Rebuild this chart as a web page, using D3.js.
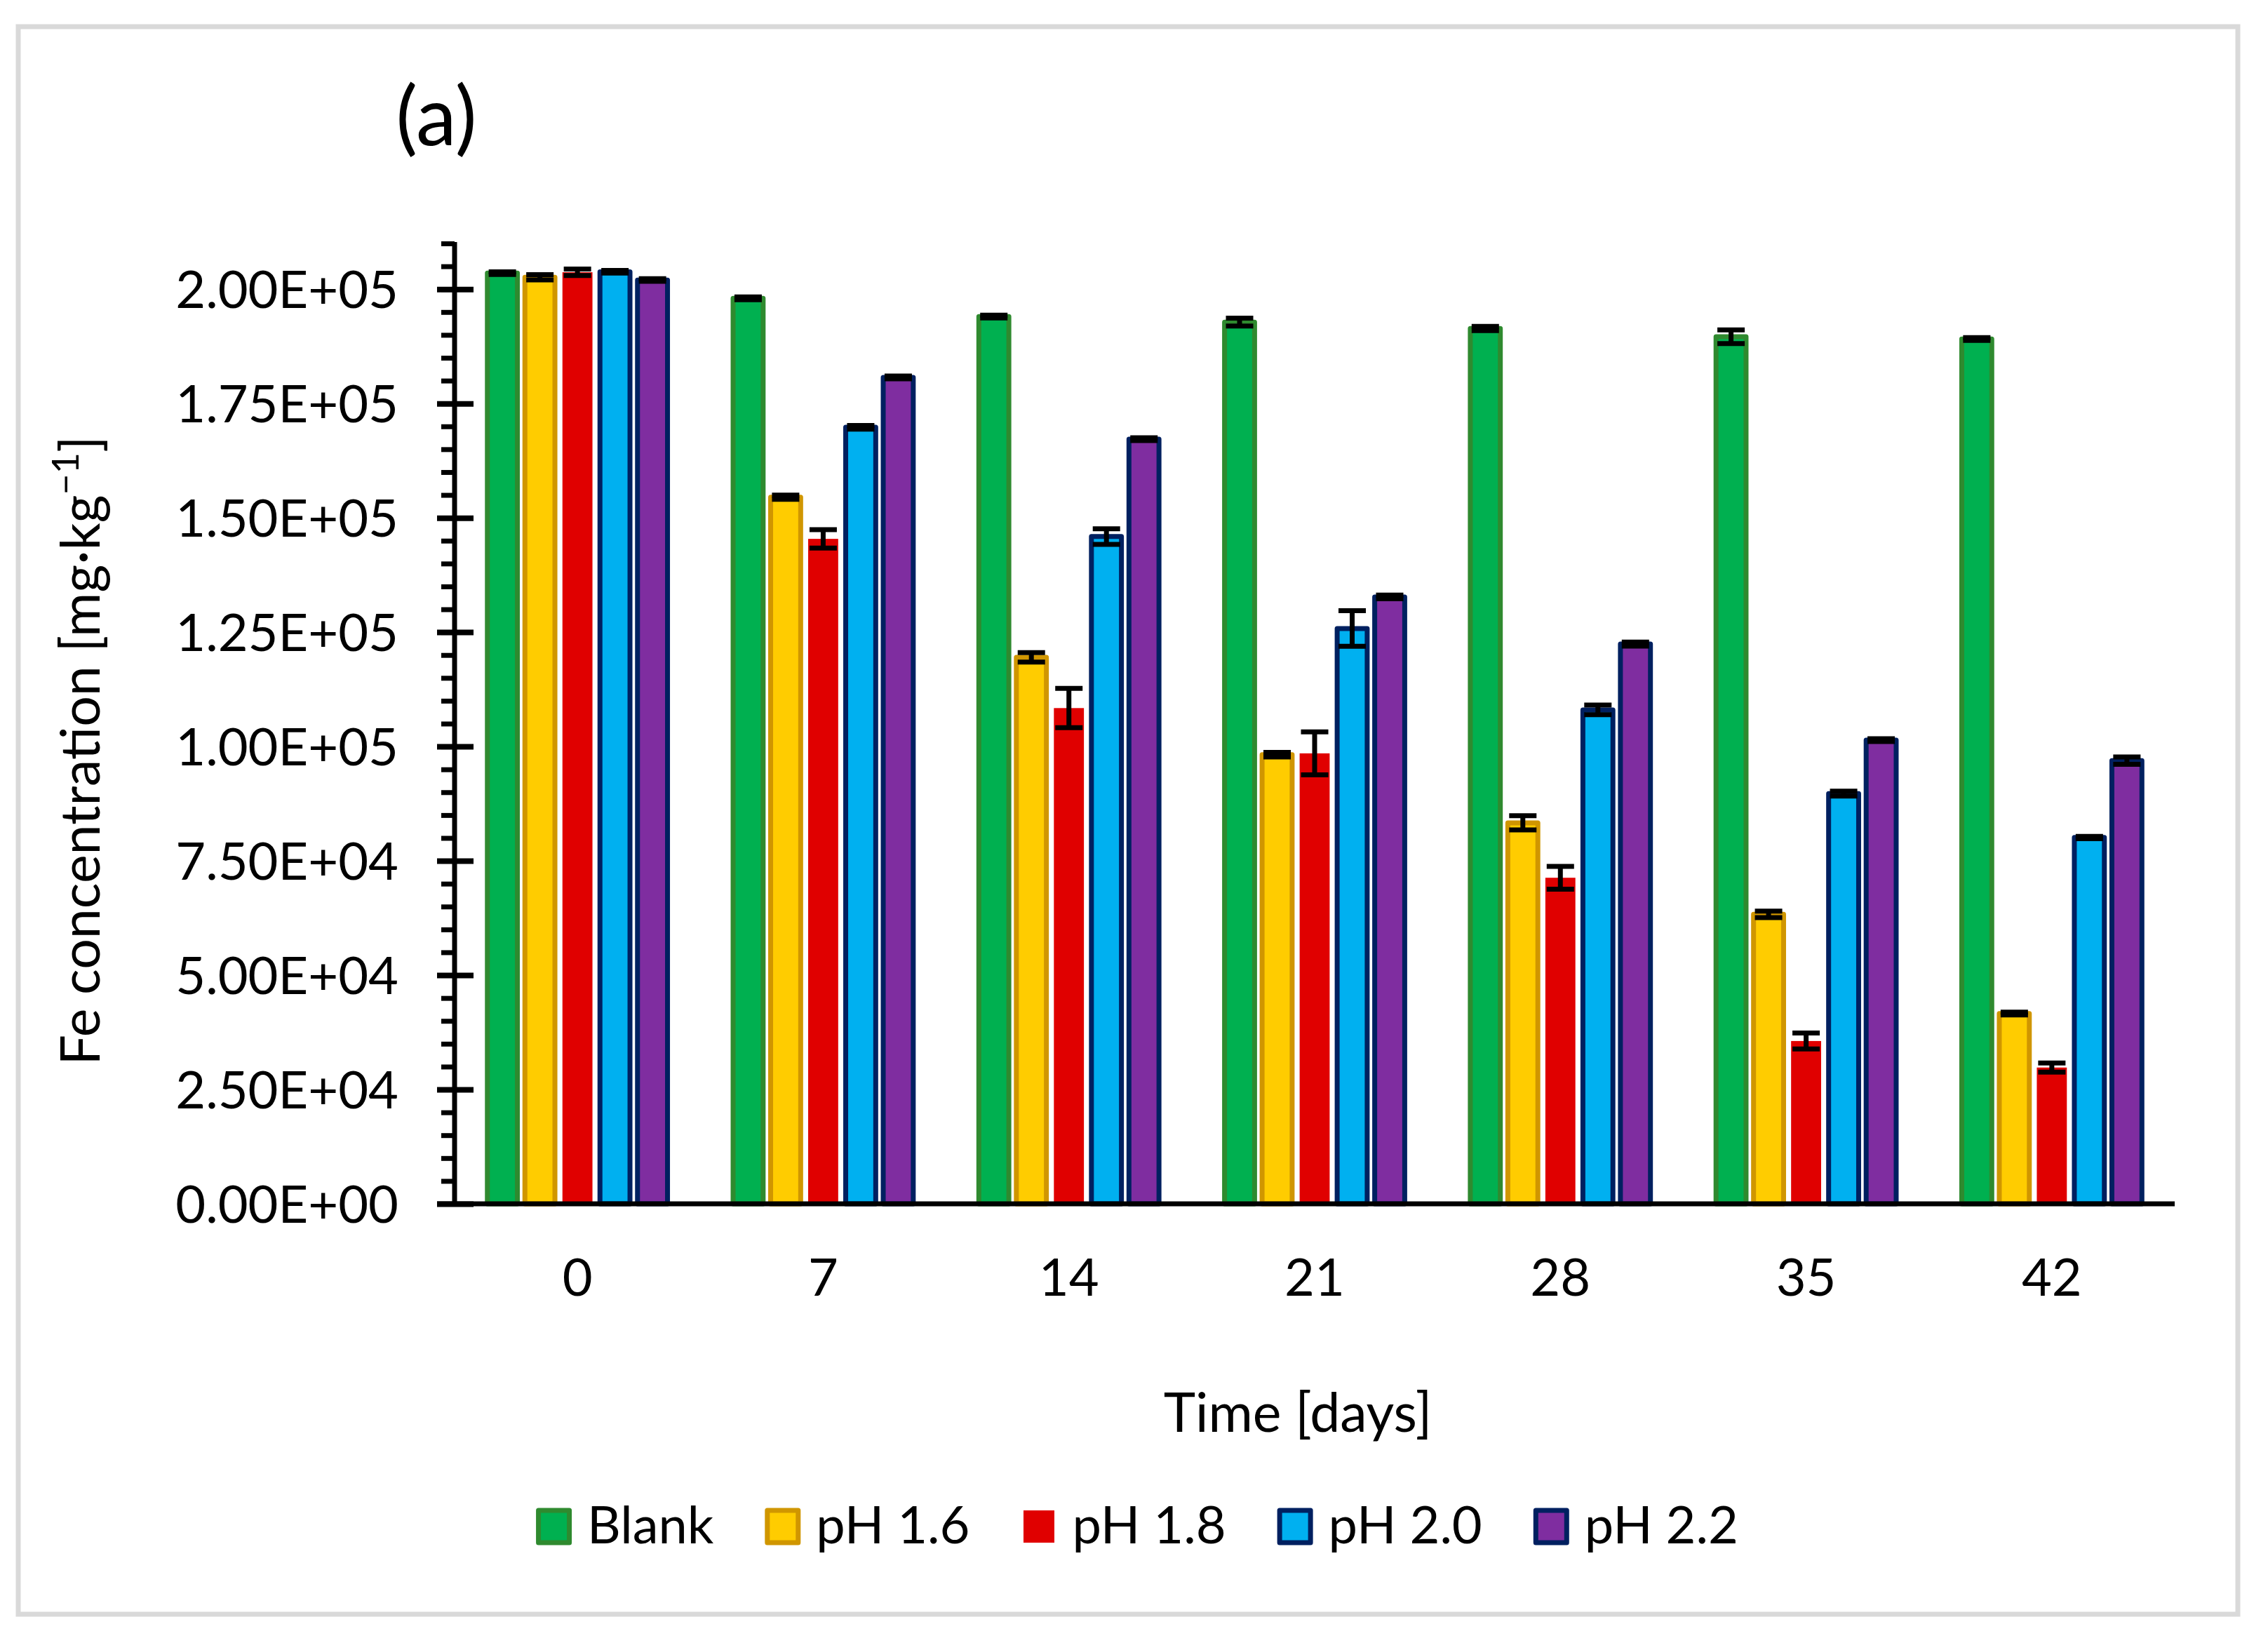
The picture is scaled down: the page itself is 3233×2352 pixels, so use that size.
<!DOCTYPE html>
<html>
<head>
<meta charset="utf-8">
<script src="https://cdn.jsdelivr.net/npm/d3@7/dist/d3.min.js"></script>
<style>
  body { margin: 0; background: #fff; }
  svg text { font-family: Lato, "Open Sans", sans-serif; fill: #000; }
</style>
</head>
<body>
<svg id="chart" width="3233" height="2352"></svg>
<script>
// data
const days = ["0", "7", "14", "21", "28", "35", "42"];
const seriesNames = ["Blank", "pH 1.6", "pH 1.8", "pH 2.0", "pH 2.2"];

const blank    = [203500, 198000, 194000, 192800, 191400, 189600, 189100];
const ph16     = [202600, 154500, 119500, 98200, 83300, 63300, 41600];
const ph18     = [203700, 145400, 108400, 98500, 71300, 35600, 29800];
const ph20     = [203800, 169800, 145900, 125800, 108000, 89700, 80100];
const ph22     = [202000, 180700, 167200, 132700, 122400, 101400, 96900];

const blankErr = [300, 300, 300, 850, 450, 1500, 300];
const ph16Err  = [575, 450, 1050, 500, 1550, 700, 300];
const ph18Err  = [720, 2000, 4300, 4700, 2500, 1750, 1000];
const ph20Err  = [300, 400, 1700, 3900, 1050, 550, 250];
const ph22Err  = [300, 300, 300, 400, 450, 300, 800];

const yTicks = [0, 25000, 50000, 75000, 100000, 125000, 150000, 175000, 200000];
const yMinorTicks = d3.range(0, 210001, 5000);

const fills   = ["#00B050", "#FFCC00", "#E00000", "#00B0F0", "#7F2DA0"];
const strokes = ["#2F8A2F", "#D09600", "none", "#002060", "#002060"];

const values = [blank, ph16, ph18, ph20, ph22];
const errors = [blankErr, ph16Err, ph18Err, ph20Err, ph22Err];

const rows = [];
seriesNames.forEach((s, si) => {
  days.forEach((d, di) => {
    rows.push({series: s, si: si, day: d, v: values[si][di], e: errors[si][di]});
  });
});

const svg = d3.select("#chart");

// outer border
svg.append("rect")
  .attr("x", 26).attr("y", 38)
  .attr("width", 3190 - 26).attr("height", 2301 - 38)
  .attr("fill", "#fff").attr("stroke", "#D9D9D9").attr("stroke-width", 7);

const plotLeft = 648, plotRight = 3100, plotBottom = 1716, plotTop = 347;

const x0 = d3.scaleBand().domain(days).range([plotLeft, plotRight]).padding(0);
const groupW = 267.5;
const x1 = d3.scaleBand().domain(seriesNames).range([0, groupW]).padding(0);
const barW = x1.bandwidth() * 0.8;
const y = d3.scaleLinear().domain([0, 210000]).range([plotBottom, plotTop]);

function sci(v) {
  if (v === 0) return "0.00E+00";
  const e = Math.floor(Math.log10(v));
  const m = v / Math.pow(10, e);
  return m.toFixed(2) + "E+" + String(e).padStart(2, "0");
}

// bars
const barX = d => x0(d.day) + (x0.bandwidth() - groupW) / 2 + x1(d.series) + (x1.bandwidth() - barW) / 2;

svg.append("g").selectAll("rect")
  .data(rows)
  .join("rect")
  .attr("x", barX)
  .attr("y", d => y(d.v))
  .attr("width", barW)
  .attr("height", d => y(0) - y(d.v))
  .attr("fill", d => fills[d.si])
  .attr("stroke", d => strokes[d.si])
  .attr("stroke-width", 7)
  .attr("stroke-linejoin", "round");

// error bars
const capW = 39;
const eb = svg.append("g").attr("stroke", "#000").attr("stroke-width", 7);
eb.selectAll(".stem").data(rows).join("line").attr("class", "stem")
  .attr("x1", d => barX(d) + barW / 2).attr("x2", d => barX(d) + barW / 2)
  .attr("y1", d => y(d.v - d.e)).attr("y2", d => y(d.v + d.e));
eb.selectAll(".capT").data(rows).join("line").attr("class", "capT")
  .attr("x1", d => barX(d) + barW / 2 - capW / 2).attr("x2", d => barX(d) + barW / 2 + capW / 2)
  .attr("y1", d => y(d.v + d.e)).attr("y2", d => y(d.v + d.e));
eb.selectAll(".capB").data(rows).join("line").attr("class", "capB")
  .attr("x1", d => barX(d) + barW / 2 - capW / 2).attr("x2", d => barX(d) + barW / 2 + capW / 2)
  .attr("y1", d => y(d.v - d.e)).attr("y2", d => y(d.v - d.e));

// y axis minor ticks
const yMinor = svg.append("g")
  .attr("transform", `translate(${plotLeft},0)`)
  .call(d3.axisLeft(y).tickValues(yMinorTicks).tickSizeInner(19).tickSizeOuter(0).tickFormat(""));
yMinor.select(".domain").remove();
yMinor.selectAll("line").attr("stroke", "#000").attr("stroke-width", 7);

// y axis major ticks + labels
const yAx = svg.append("g")
  .attr("transform", `translate(${plotLeft},0)`)
  .call(d3.axisLeft(y).tickValues(yTicks).tickSizeInner(25).tickSizeOuter(0).tickPadding(55).tickFormat(sci));
yAx.select(".domain").remove();
yAx.selectAll(".tick line").attr("x1", 27).attr("x2", -25).attr("stroke", "#000").attr("stroke-width", 8);
yAx.selectAll(".tick text")
  .attr("x", -80).attr("dy", null).attr("y", 26)
  .style("font-size", "74px").style("font-family", "Lato, sans-serif");

// axis lines
svg.append("line")
  .attr("x1", plotLeft).attr("x2", plotLeft)
  .attr("y1", plotTop - 2).attr("y2", plotBottom)
  .attr("stroke", "#000").attr("stroke-width", 7);

const xAx = svg.append("g")
  .attr("transform", `translate(0,${plotBottom})`)
  .call(d3.axisBottom(x0).tickSize(0).tickPadding(0));
xAx.select(".domain").remove();
xAx.selectAll(".tick text")
  .attr("dy", null).attr("y", 1847 - plotBottom)
  .style("font-size", "74px").style("font-family", "Lato, sans-serif");
svg.append("line")
  .attr("x1", 623).attr("x2", plotRight)
  .attr("y1", plotBottom).attr("y2", plotBottom)
  .attr("stroke", "#000").attr("stroke-width", 7);

// titles
svg.append("text")
  .attr("x", 622).attr("y", 207)
  .attr("text-anchor", "middle")
  .style("font-size", "116px")
  .text("(a)");

svg.append("text")
  .attr("x", 1850).attr("y", 2041)
  .attr("text-anchor", "middle")
  .style("font-size", "77px")
  .text("Time [days]");

const yt = svg.append("text")
  .attr("transform", "translate(142,1070) rotate(-90)")
  .attr("text-anchor", "middle")
  .style("font-size", "77px");
yt.append("tspan").text("Fe concentration [mg·kg");
yt.append("tspan").attr("dy", -30).style("font-size", "52px").text("−1");
yt.append("tspan").attr("dy", 30).text("]");

// legend
const legend = svg.append("g");
let lx = 0;
seriesNames.forEach((s, i) => {
  const g = legend.append("g").attr("transform", `translate(${lx},0)`);
  g.append("rect")
    .attr("x", 3.5).attr("y", 2153).attr("width", 44).attr("height", 46)
    .attr("fill", fills[i]).attr("stroke", strokes[i]).attr("stroke-width", 7)
    .attr("stroke-linejoin", "round");
  const t = g.append("text")
    .attr("x", 73).attr("y", 2200)
    .style("font-size", "74px")
    .text(s);
  lx += 73 + t.node().getComputedTextLength() + 73;
});
const legendW = lx - 73;
legend.attr("transform", `translate(${1621 - legendW / 2},0)`);
</script>
</body>
</html>
